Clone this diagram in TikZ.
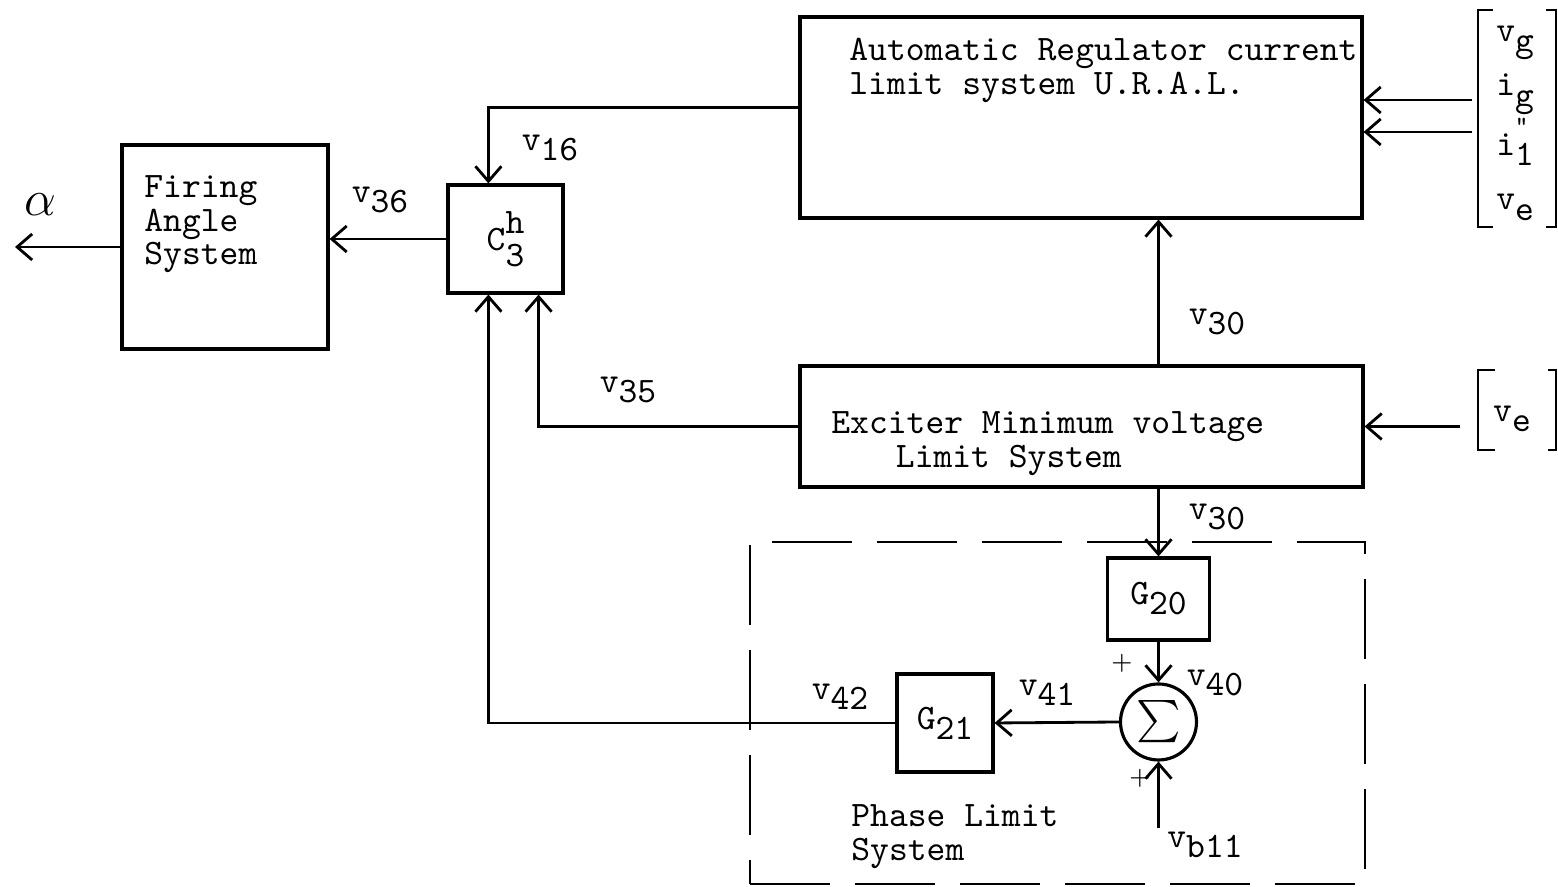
\documentclass[tikz,border=0pt]{standalone}
\usepackage{amsmath}
\usepackage{tikz}
\usetikzlibrary{arrows.meta}

\newcommand{\tyw}{\ttfamily\fontsize{10.2}{9.6}\selectfont}
\newcommand{\vsub}[2]{#1\raisebox{-0.65ex}{#2}}

\tikzset{
  box/.style={draw, line width=0.9pt, inner sep=0pt},
  txt/.style={font=\tyw, align=left, inner sep=0pt, anchor=north west},
  lab/.style={font=\tyw, inner sep=0pt},
  sumnode/.style={draw, circle, minimum size=0.76cm, inner sep=0pt, line width=0.9pt},
  dashbox/.style={draw, dash pattern=on 0.8cm off 0.25cm, line width=0.8pt, inner sep=0pt},
  plus/.style={font=\scriptsize, inner sep=0pt}
}

\begin{document}
\begin{tikzpicture}[>={Straight Barb[length=1.5mm,width=2.6mm]}, line width=0.8pt]
  \useasboundingbox (0,0) rectangle (15.58,8.87);
  % U.R.A.L. block and its inputs
  \node[box, minimum width=5.62cm, minimum height=2.01cm] (ural) at (10.81,7.695) {};
  \node[txt] (uraltxt) at (8.48,8.50) {Automatic Regulator current\\limit system U.R.A.L.};
  \node[txt, font=\ttfamily\fontsize{10.2}{15.4}\selectfont] (invars) at (14.95,8.62)
    {\vsub{v}{g}\\\vsub{i}{g}\\i\raisebox{-0.65ex}{\shortstack[l]{\scriptsize"\\[0pt]1}}\\\vsub{v}{e}};
  \draw (14.93,8.77) -- (14.78,8.77) -- (14.78,6.60) -- (14.93,6.60);
  \draw (15.46,8.77) -- (15.56,8.77) -- (15.56,6.60) -- (15.46,6.60);
  \coordinate (in1) at (14.72,7.87);
  \coordinate (in2) at (14.72,7.55);
  \draw[->] (in1) -- (in1 -| ural.east);
  \draw[->] (in2) -- (in2 -| ural.east);
  % firing angle and C3h
  \node[box, minimum width=2.06cm, minimum height=2.04cm] (fire) at (2.25,6.40) {};
  \node[txt] (firetxt) at (1.43,7.13) {Firing\\Angle\\System};
  \node[box, minimum width=1.15cm, minimum height=1.08cm, font=\tyw] (c3) at (5.055,6.48)
    {C\raisebox{-1.0ex}{\shortstack[l]{h\\[0pt]3}}};
  \coordinate (c3t) at ([xshift=4.2mm]c3.north west);
  \coordinate (c3a) at ([xshift=4.2mm]c3.south west);
  \coordinate (c3b) at ([xshift=-2.6mm]c3.south east);
  \coordinate (alphaend) at (0.15,6.40);
  \draw[->] ([yshift=1mm]ural.west) -| (c3t);
  \draw[->] (c3.west) -- (c3.west -| fire.east);
  \draw[->] (fire.west) -- (alphaend);
  \node[lab] (lv16) at (5.50,7.39) {\vsub{v}{16}};
  \node[lab] (lv36) at (3.80,6.87) {\vsub{v}{36}};
  \node[lab, font=\Large] (lalpha) at (0.40,6.82) {$\alpha$};
  % exciter minimum voltage block
  \node[box, minimum width=5.63cm, minimum height=1.21cm] (ex) at (10.815,4.605) {};
  \node[txt] (extxt) at (8.30,4.77) {Exciter Minimum voltage\\\hspace*{1.8em}Limit System};
  \node[lab] (vein) at (15.12,4.68) {\vsub{v}{e}};
  \draw (14.95,5.17) -- (14.78,5.17) -- (14.78,4.37) -- (14.95,4.37);
  \draw (15.48,5.17) -- (15.56,5.17) -- (15.56,4.37) -- (15.48,4.37);
  \coordinate (in3) at (14.60,4.605);
  \draw[->] (in3) -- (ex.east);
  \draw[->] (ex.west) -| (c3b);
  \node[lab] (lv35) at (6.28,4.97) {\vsub{v}{35}};
  % phase limit system
  \node[dashbox, minimum width=6.15cm, minimum height=3.42cm] (plbox) at (10.575,1.74) {};
  \node[txt] (pltxt) at (8.50,0.84) {Phase Limit\\System};
  \node[box, minimum width=1.02cm, minimum height=0.82cm, font=\tyw] (g20) at (11.585,2.88) {\vsub{G}{20}};
  \node[sumnode, font=\large] (sum) at (11.585,1.65) {$\textstyle\sum$};
  \node[box, minimum width=0.96cm, minimum height=0.98cm, font=\tyw] (g21) at (9.45,1.64) {\vsub{G}{21}};
  \coordinate (vbin) at (11.585,0.59);
  \draw[->] (g20.north |- ex.north) -- (g20.north |- ural.south);
  \draw[->] (g20.north |- ex.south) -- (g20.north);
  \draw[->] (g20.south) -- (sum.north);
  \draw[->] (vbin) -- (sum.south);
  \draw[->] (sum.west) -- (g21.east);
  \draw[->] (g21.west) -| (c3a);
  \node[lab] (lv30a) at (12.17,5.65) {\vsub{v}{30}};
  \node[lab] (lv30b) at (12.17,3.70) {\vsub{v}{30}};
  \node[lab] (lv40) at (12.15,2.04) {\vsub{v}{40}};
  \node[lab] (lv41) at (10.47,1.94) {\vsub{v}{41}};
  \node[lab] (lv42) at (8.40,1.90) {\vsub{v}{42}};
  \node[lab] (lvb) at (12.05,0.42) {\vsub{v}{b11}};
  \node[plus] (plus1) at (11.22,2.24) {+};
  \node[plus] (plus2) at (11.40,1.09) {+};
\end{tikzpicture}
\end{document}
